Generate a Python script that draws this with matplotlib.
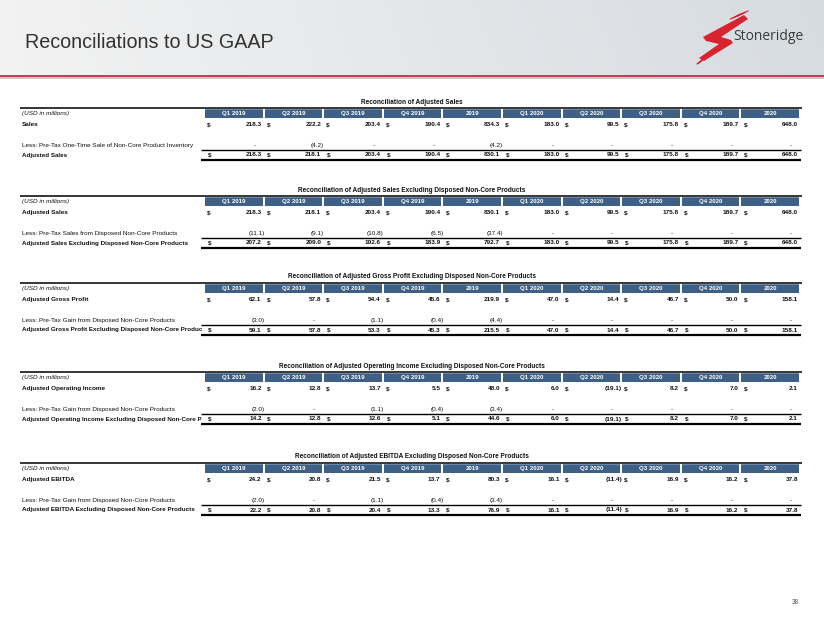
import matplotlib
matplotlib.use("Agg")
import matplotlib.pyplot as plt
import numpy as np
from matplotlib.patches import Rectangle, Polygon

# ---------------- data ----------------
periods = ["Q1 2019", "Q2 2019", "Q3 2019", "Q4 2019", "2019",
           "Q1 2020", "Q2 2020", "Q3 2020", "Q4 2020", "2020"]

titles = [
    "Reconciliation of Adjusted Sales",
    "Reconciliation of Adjusted Sales Excluding Disposed Non-Core Products",
    "Reconciliation of Adjusted Gross Profit Excluding Disposed Non-Core Products",
    "Reconciliation of Adjusted Operating Income Excluding Disposed Non-Core Products",
    "Reconciliation of Adjusted EBITDA Excluding Disposed Non-Core Products",
]
row1_labels = ["Sales", "Adjusted Sales", "Adjusted Gross Profit",
               "Adjusted Operating Income", "Adjusted EBITDA"]
less_labels = [
    "Less: Pre-Tax One-Time Sale of Non-Core Product Inventory",
    "Less: Pre-Tax Sales from Disposed Non-Core Products",
    "Less: Pre-Tax Gain from Disposed Non-Core Products",
    "Less: Pre-Tax Gain from Disposed Non-Core Products",
    "Less: Pre-Tax Gain from Disposed Non-Core Products",
]
total_labels = [
    "Adjusted Sales",
    "Adjusted Sales Excluding Disposed Non-Core Products",
    "Adjusted Gross Profit Excluding Disposed Non-Core Produc",
    "Adjusted Operating Income Excluding Disposed Non-Core P",
    "Adjusted EBITDA Excluding Disposed Non-Core Products",
]

sales = [218.3, 222.2, 203.4, 190.4, 834.3, 183.0, 99.5, 175.8, 189.7, 648.0]
sales_inventory = [None, -4.2, None, None, -4.2, None, None, None, None, None]
adjusted_sales = [218.3, 218.1, 203.4, 190.4, 830.1, 183.0, 99.5, 175.8, 189.7, 648.0]

sales_disposed = [-11.1, -9.1, -10.8, -6.5, -37.4, None, None, None, None, None]
adjusted_sales_excl = [207.2, 209.0, 192.6, 183.9, 792.7, 183.0, 99.5, 175.8, 189.7, 648.0]

gross_profit = [62.1, 57.8, 54.4, 45.6, 219.9, 47.0, 14.4, 46.7, 50.0, 158.1]
gross_profit_gain = [-3.0, None, -1.1, -0.4, -4.4, None, None, None, None, None]
gross_profit_excl = [59.1, 57.8, 53.3, 45.3, 215.5, 47.0, 14.4, 46.7, 50.0, 158.1]

operating_income = [16.2, 12.8, 13.7, 5.5, 48.0, 6.0, -19.1, 8.2, 7.0, 2.1]
operating_income_gain = [-2.0, None, -1.1, -0.4, -3.4, None, None, None, None, None]
operating_income_excl = [14.2, 12.8, 12.6, 5.1, 44.6, 6.0, -19.1, 8.2, 7.0, 2.1]

ebitda = [24.2, 20.8, 21.5, 13.7, 80.3, 16.1, -11.4, 16.9, 16.2, 37.8]
ebitda_gain = [-2.0, None, -1.1, -0.4, -3.4, None, None, None, None, None]
ebitda_excl = [22.2, 20.8, 20.4, 13.3, 76.9, 16.1, -11.4, 16.9, 16.2, 37.8]

tables = [
    (sales, sales_inventory, adjusted_sales),
    (adjusted_sales, sales_disposed, adjusted_sales_excl),
    (gross_profit, gross_profit_gain, gross_profit_excl),
    (operating_income, operating_income_gain, operating_income_excl),
    (ebitda, ebitda_gain, ebitda_excl),
]

# ---------------- layout ----------------
W, H = 824, 618
table_tops = [102, 190, 277, 366, 457]
col_start, col_step, col_w = 205, 59.6, 57.6
label_x = 22
FS = 4.6
HEADER_BLUE = "#3f6086"
FONT = "Liberation Sans"

plt.rcParams["font.family"] = [FONT, "DejaVu Sans"]

fig = plt.figure(figsize=(W / 100, H / 100), dpi=100)
ax = fig.add_axes([0, 0, 1, 1])
ax.set_xlim(0, W)
ax.set_ylim(H, 0)
ax.axis("off")

# header band gradient
grad = np.linspace(0, 1, 256)
gx, gy = np.meshgrid(grad, np.linspace(0, 1, 40))
c_left = np.array([0.95, 0.95, 0.95])
c_right = np.array([0.84, 0.86, 0.88])
img = c_left[None, None, :] * (1 - gx[..., None]) + c_right[None, None, :] * gx[..., None]
img = img * (1 - 0.03 * gy[..., None]) + 0.03 * gy[..., None]
ax.imshow(img, extent=[0, W, 75, 0], aspect="auto", zorder=0)
ax.add_patch(Rectangle((0, 75), W, 2.2, color="#cf3c50", lw=0, zorder=2))
ax.add_patch(Rectangle((0, 77.2), W, 1.6, color="#c9cbcd", lw=0, zorder=2))

ax.text(25, 43, "Reconciliations to US GAAP", fontsize=14.2, color="#333333",
        ha="left", va="center", family=FONT)

# logo (stylised S)
RED = "#d7242f"
s_shape = [(744, 15), (748, 19), (721, 37), (731, 40), (733, 43),
           (704, 61), (699, 58), (719, 44), (706, 41), (703, 37)]
ax.add_patch(Polygon(s_shape, closed=True, color=RED, lw=0, zorder=3))
for k in range(4):
    off = k * 2.6
    ax.plot([738 - off, 748 - off], [16 + off * 0.4, 11 + off * 0.4], color=RED,
            lw=0.8, zorder=3)
    ax.plot([697 + off * 0.3, 706 + off * 0.3], [64 - off * 0.2, 57 - off * 0.2],
            color=RED, lw=0.8, zorder=3)
ax.text(733, 37, "Stoneridge", fontsize=10, color="#3a3a3a", ha="left",
        va="center", family="Open Sans")

ax.text(799, 603, "38", fontsize=4.8, color="#555555", ha="right", va="center")


def fmt(v):
    if v is None:
        return "-"
    if v < 0:
        return "({:.1f})".format(abs(v))
    return "{:.1f}".format(v)


def put_value(v, x0, x1, y, bold):
    weight = "bold" if bold else "normal"
    if v is None:
        ax.text(x1 - 8, y, "-", fontsize=FS, ha="center", va="center",
                weight=weight, color="#111111")
    elif v < 0:
        ax.text(x1 + 2, y, fmt(v), fontsize=FS, ha="right", va="center",
                weight=weight, color="#111111")
    else:
        ax.text(x1 - 1, y, fmt(v), fontsize=FS, ha="right", va="center",
                weight=weight, color="#111111")


for t, (T, (r1, rl, rt)) in enumerate(zip(table_tops, tables)):
    ax.text(412, T, titles[t], fontsize=FS + 0.1, weight="bold", ha="center",
            va="center", color="#111111")
    ax.plot([20, 802], [T + 6, T + 6], color="black", lw=1.1, solid_capstyle="butt")
    ax.text(label_x, T + 11.3, "(USD in millions)", fontsize=FS, style="italic",
            ha="left", va="center", color="#111111")
    y1, yl, yt = T + 22.5, T + 43.5, T + 53
    ax.text(label_x, y1, row1_labels[t], fontsize=FS, weight="bold",
            ha="left", va="center", color="#111111")
    ax.text(label_x, yl, less_labels[t], fontsize=FS, ha="left", va="center",
            color="#111111")
    ax.text(label_x, yt, total_labels[t], fontsize=FS - 0.1, weight="bold",
            ha="left", va="center", color="#111111")
    for i, p in enumerate(periods):
        x0 = col_start + i * col_step
        x1 = x0 + col_w
        ax.add_patch(Rectangle((x0, T + 7), col_w, 8.6, color=HEADER_BLUE,
                               lw=0, zorder=2))
        ax.add_patch(Rectangle((x0, T + 7), col_w, 1.2, color="#6d88a6",
                               lw=0, zorder=2))
        ax.text((x0 + x1) / 2, T + 11.4, p, fontsize=FS - 0.2, weight="bold",
                color="white", ha="center", va="center", zorder=3)
        ax.text(x0 + 4, y1, "$", fontsize=FS, weight="bold", ha="center",
                va="center", color="#111111")
        ax.text(x0 + 4.5, yt, "$", fontsize=FS, weight="bold", ha="center",
                va="center", color="#111111")
        put_value(r1[i], x0, x1, y1, True)
        put_value(rl[i], x0, x1, yl, False)
        put_value(rt[i], x0, x1, yt, True)
    ax.plot([201, 801], [T + 47.7, T + 47.7], color="black", lw=1.0,
            solid_capstyle="butt")
    ax.plot([201, 801], [T + 58, T + 58], color="black", lw=1.6,
            solid_capstyle="butt")

fig.savefig("out.png", dpi=100)
